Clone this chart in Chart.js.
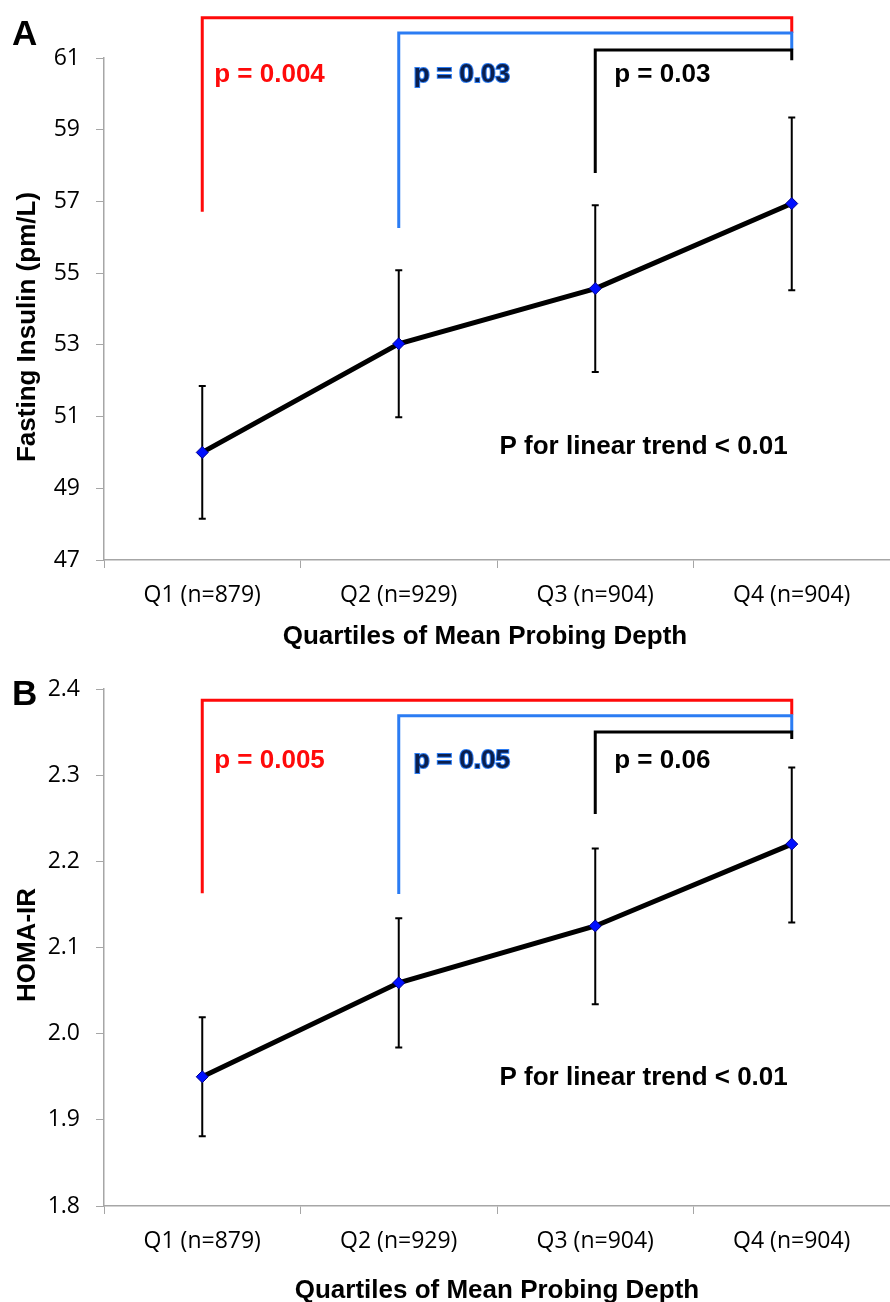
<!DOCTYPE html>
<html>
<head>
<meta charset="utf-8">
<title>Fasting insulin and HOMA-IR by probing depth quartile</title>
<script src="https://cdn.jsdelivr.net/npm/chart.js@4.4.1/dist/chart.umd.min.js"></script>
<style>
    body { margin: 0; background: #fff; }
    #wrap { position: relative; width: 890px; height: 1302px; overflow: hidden; }
    #plotA { position: absolute; left: 0; top: 0; }
    #plotB { position: absolute; left: 0; top: 660px; }
</style>
</head>
<body>
<div id="wrap">
    <canvas id="plotA" width="890" height="660"></canvas>
    <canvas id="plotB" width="890" height="642"></canvas>
</div>
<script>
// quartile labels shared by both panels
const categories = ['Q1 (n=879)', 'Q2 (n=929)', 'Q3 (n=904)', 'Q4 (n=904)'];

// panel A - fasting insulin (mean with error bar ends)
const insulinMean = [50.0, 53.03, 54.57, 56.94];
const insulinLow = [48.15, 50.98, 52.24, 54.52];
const insulinHigh = [51.85, 55.08, 56.89, 59.34];
const insulinTicks = [47, 49, 51, 53, 55, 57, 59, 61];

// panel B - HOMA-IR
const homaMean = [1.95, 2.059, 2.125, 2.22];
const homaLow = [1.881, 1.984, 2.034, 2.129];
const homaHigh = [2.019, 2.134, 2.215, 2.309];
const homaTicks = [1.8, 1.9, 2.0, 2.1, 2.2, 2.3, 2.4];

// comparison brackets: [from quartile, to quartile, top, left end, right end] in axis units
const insulinBrackets = [[0, 3, 62.12, 56.71, 61.70], [1, 3, 61.70, 56.26, 61.22], [2, 3, 61.22, 57.79, 60.94]];
const insulinPValues = ['p = 0.004', 'p = 0.03', 'p = 0.03'];
const homaBrackets = [[0, 3, 2.387, 2.163, 2.370], [1, 3, 2.369, 2.162, 2.351], [2, 3, 2.350, 2.255, 2.342]];
const homaPValues = ['p = 0.005', 'p = 0.05', 'p = 0.06'];
const trendText = 'P for linear trend < 0.01';

const bracketColors = ['#ff0a0a', '#2b7cf3', '#000000'];
const boldFont = '"Liberation Sans", Arial, sans-serif';
const tickFont = '"Open Sans", sans-serif';

// error bars, brackets and the extra text of each panel
const panelExtras = {
    id: 'panelExtras',
    beforeDatasetsDraw(chart, args, opts) {
        const x = chart.scales.x, y = chart.scales.y;
        const ctx = chart.ctx;
        ctx.save();
        ctx.strokeStyle = '#000';
        ctx.lineWidth = 2;
        opts.low.forEach((lo, i) => {
            const px = x.getPixelForValue(i);
            const y1 = y.getPixelForValue(lo);
            const y2 = y.getPixelForValue(opts.high[i]);
            ctx.beginPath();
            ctx.moveTo(px, y1); ctx.lineTo(px, y2);
            ctx.moveTo(px - 3.5, y1); ctx.lineTo(px + 3.5, y1);
            ctx.moveTo(px - 3.5, y2); ctx.lineTo(px + 3.5, y2);
            ctx.stroke();
        });
        ctx.restore();
    },
    afterDatasetsDraw(chart, args, opts) {
        const x = chart.scales.x, y = chart.scales.y;
        const ctx = chart.ctx;
        ctx.save();

        // brackets
        ctx.lineWidth = 3;
        ctx.lineJoin = 'miter';
        opts.brackets.forEach((b, k) => {
            ctx.strokeStyle = bracketColors[k];
            ctx.beginPath();
            ctx.moveTo(x.getPixelForValue(b[0]), y.getPixelForValue(b[3]));
            ctx.lineTo(x.getPixelForValue(b[0]), y.getPixelForValue(b[2]));
            ctx.lineTo(x.getPixelForValue(b[1]), y.getPixelForValue(b[2]));
            ctx.lineTo(x.getPixelForValue(b[1]), y.getPixelForValue(b[4]));
            ctx.stroke();
        });

        // p values
        ctx.font = 'bold 26px ' + boldFont;
        ctx.textBaseline = 'middle';
        ctx.textAlign = 'left';
        const offsets = [12, 15, 19];
        opts.pValues.forEach((t, k) => {
            const px = x.getPixelForValue(opts.brackets[k][0]) + offsets[k];
            const py = y.getPixelForValue(opts.pY);
            if (k === 1) {
                ctx.lineWidth = 2;
                ctx.strokeStyle = '#2b7cf3';
                ctx.strokeText(t, px, py);
                ctx.fillStyle = '#0b1f4d';
            } else {
                ctx.fillStyle = bracketColors[k];
            }
            ctx.fillText(t, px, py);
        });

        // linear trend note, right edge at Q4
        ctx.fillStyle = '#000';
        ctx.textAlign = 'right';
        ctx.fillText(trendText, x.getPixelForValue(3) - 4, y.getPixelForValue(opts.trendY));

        // axis titles
        ctx.textAlign = 'center';
        ctx.fillText(opts.xTitle, opts.xTitlePos[0], opts.xTitlePos[1]);
        ctx.save();
        ctx.translate(opts.yTitlePos[0], opts.yTitlePos[1]);
        ctx.rotate(-Math.PI / 2);
        ctx.fillText(opts.yTitle, 0, 0);
        ctx.restore();

        // panel letter
        ctx.font = 'bold 35px ' + boldFont;
        ctx.textAlign = 'left';
        ctx.textBaseline = 'alphabetic';
        ctx.fillText(opts.letter, 12, 45);
        ctx.restore();
    }
};

function makePanel(id, values, ticks, top, extras) {
    const el = document.getElementById(id).getContext('2d');
    return new Chart(el, {
        type: 'line',
        data: {
            labels: categories,
            datasets: [{
                data: values,
                borderColor: '#000',
                borderWidth: 5,
                tension: 0,
                pointStyle: 'rectRot',
                pointRadius: 6,
                pointBackgroundColor: '#0010ff',
                pointBorderColor: '#00008a',
                pointBorderWidth: 1,
                fill: false
            }]
        },
        options: {
            responsive: false,
            animation: false,
            layout: { autoPadding: false, padding: { top: top, right: 0, left: 0, bottom: 0 } },
            plugins: {
                legend: { display: false },
                tooltip: { enabled: false },
                panelExtras: extras
            },
            scales: {
                x: {
                    offset: true,
                    grid: { offset: true, drawOnChartArea: false, tickLength: 8, color: '#a6a6a6' },
                    border: { color: '#a6a6a6', width: 1.5 },
                    ticks: { color: '#000', padding: 14, font: { family: tickFont, size: 23 } },
                    afterFit: (scale) => {
                        scale.height = extras.xAxisHeight;
                        scale.paddingLeft = 0;
                        scale.paddingRight = 0;
                    }
                },
                y: {
                    min: ticks[0],
                    max: ticks[ticks.length - 1],
                    afterBuildTicks: (scale) => { scale.ticks = ticks.map(v => ({ value: v })); },
                    grid: { drawOnChartArea: false, tickLength: 8, color: '#a6a6a6' },
                    border: { color: '#a6a6a6', width: 1.5 },
                    ticks: {
                        color: '#000',
                        padding: 16,
                        font: { family: tickFont, size: 23 },
                        callback: extras.tickFormat
                    },
                    afterFit: (scale) => {
                        scale.width = 104;
                        scale.paddingTop = 0;
                        scale.paddingBottom = 0;
                    }
                }
            }
        },
        plugins: [panelExtras]
    });
}

makePanel('plotA', insulinMean, insulinTicks, 58, {
    low: insulinLow,
    high: insulinHigh,
    brackets: insulinBrackets,
    pValues: insulinPValues,
    pY: 60.53,
    trendY: 50.15,
    xTitle: 'Quartiles of Mean Probing Depth',
    xTitlePos: [485, 637],
    yTitle: 'Fasting Insulin (pm/L)',
    yTitlePos: [28, 327],
    letter: 'A',
    xAxisHeight: 100,
    tickFormat: (v) => String(v)
});

makePanel('plotB', homaMean, homaTicks, 29, {
    low: homaLow,
    high: homaHigh,
    brackets: homaBrackets,
    pValues: homaPValues,
    pY: 2.317,
    trendY: 1.949,
    xTitle: 'Quartiles of Mean Probing Depth',
    xTitlePos: [497, 631],
    yTitle: 'HOMA-IR',
    yTitlePos: [28, 285],
    letter: 'B',
    xAxisHeight: 96,
    tickFormat: (v) => Number(v).toFixed(1)
});
</script>
</body>
</html>
